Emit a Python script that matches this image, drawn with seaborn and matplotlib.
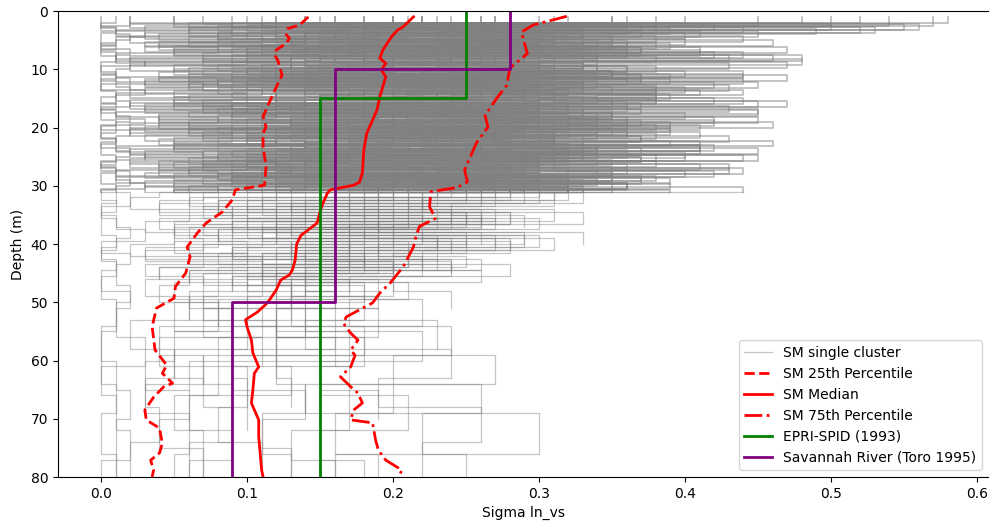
import numpy as np
import pandas as pd
import matplotlib
matplotlib.use("Agg")
import matplotlib.pyplot as plt
from matplotlib.lines import Line2D
import seaborn as sns

# layer boundaries (m) of the single-cluster profiles, one grid per group
top_a = [1, 2, 3, 4, 5, 6, 7, 8, 9, 10, 11, 12, 13, 14, 15, 16, 17, 18, 19, 20,
         21, 22, 23, 24, 25, 26, 27, 28, 29, 30, 31]
top_b = [1, 2.25, 3.25, 4.25, 5.25, 6.25, 7.25, 8.25, 9.25, 10.25, 11.25, 12.25, 13.25,
         14.25, 15.25, 16.25, 17.25, 18.25, 19.25, 20.25, 21.25, 22.25, 23.25, 24.25,
         25.25, 26.25, 27.25, 28.25, 29.25, 30.25, 31]
top_c = [1, 2.5, 3.5, 4.5, 5.5, 6.5, 7.5, 8.5, 9.5, 10.5, 11.5, 12.5, 13.5, 14.5, 15.5,
         16.5, 17.5, 18.5, 19.5, 20.5, 21.5, 22.5, 23.5, 24.5, 25.5, 26.5, 27.5, 28.5,
         29.5, 30.5, 31]
top_d = [1, 2.75, 3.75, 4.75, 5.75, 6.75, 7.75, 8.75, 9.75, 10.75, 11.75, 12.75, 13.75,
         14.75, 15.75, 16.75, 17.75, 18.75, 19.75, 20.75, 21.75, 22.75, 23.75, 24.75,
         25.75, 26.75, 27.75, 28.75, 29.75, 30.75, 31]
deep_a = [31, 33, 35, 37, 39, 41, 43, 45, 47, 50, 55, 60, 65, 70, 75, 80]
deep_b = [31, 32, 34, 36, 38, 40, 42, 44, 46, 49, 53, 58, 63, 68, 74, 80]
deep_c = [31, 33.5, 35.5, 37.5, 39.5, 41.5, 43.5, 45.5, 48, 51, 56, 61, 66, 72, 77, 80]
deep_d = [31, 32.5, 34.5, 36.5, 38.5, 40.5, 42.5, 44.5, 46.5, 49.5, 54, 59, 64, 69, 76, 80]

# sigma ln_vs x100 per layer: upper 30 m, then deeper layers
sm_a_top = [
    "1 0 1 2 1 0 1 1 2 1 0 1 2 1 1 0 1 2 1 1 0 1 1 2 1 0 1 1 2 1",
    "15 2 12 4 14 3 16 2 13 5 15 3 10 2 14 3 12 4 13 2 11 4 15 3 12 2 14 5 11 3",
    "22 6 19 8 21 5 17 10 20 7 22 6 16 9 21 5 19 8 20 6 18 10 21 7 17 5 22 8 19 6",
    "28 9 25 11 27 8 22 13 26 10 24 8 28 12 21 9 27 11 25 8 23 12 26 9 22 10 27 8 24 11",
    "32 11 28 14 31 10 26 15 30 12 29 10 25 16 31 11 27 13 30 10 28 15 26 12 31 10 29 14 27 12",
    "26 13 24 15 25 12 22 16 26 14 23 12 25 17 21 13 26 15 24 12 22 16 25 13 23 14 26 12 21 15",
    "35 15 31 17 34 14 29 18 33 16 30 14 35 19 28 15 33 17 31 14 29 18 34 16 30 15 32 14 28 17",
    "30 17 27 19 29 16 25 20 28 18 26 16 30 21 24 17 29 19 27 16 25 20 28 17 26 18 29 16 24 19",
    "40 19 33 21 29 18 36 22 27 20 34 18 30 23 38 19 28 21 35 18 31 22 26 19 37 20 29 18 33 21",
    "48 21 36 23 31 20 42 24 29 22 37 20 33 25 44 21 30 23 39 20 28 24 41 21 32 22 36 20 30 23",
    "52 24 39 25 46 22 33 26 43 24 31 22 40 27 35 23 45 25 32 22 38 26 42 23 30 24 44 22 34 25",
    "58 27 49 28 36 25 44 29 33 27 47 25 38 30 42 26 35 28 46 25 34 29 41 26 37 27 43 25 32 28",
]
sm_a_deep = [
    "1 0 1 2 1 0 1 1 2 1 0 1 2 1 1",
    "8 4 10 5 7 3 9 6 4 8 5 3 6 4 7",
    "14 8 12 6 15 9 11 7 13 5 9 6",
    "18 11 20 9 16 13 19 10 15 12 17 9 14 11 13",
    "22 14 19 12 24 16 18 11",
    "19 12 22 10 17 14 20 9 16",
    "25 16 21 13 23 17 20 12 18 14 22 15 19",
    "21 13 18 11 23 15 17 12",
    "30 20 26 18 28 22",
    "26 17 22 15 27 19 24",
    "33 24 29",
    "29 21 25 18 31 23",
]
sm_b_top = [
    "2 9 1 11 3 8 1 10 2 12 1 7 3 10 2 11 1 8 2 9 3 12 1 7 2 10 1 11 3 8",
    "5 17 6 14 4 18 7 13 5 16 4 17 8 12 5 18 6 15 4 16 7 14 5 17 6 13 4 18 5 15",
    "7 23 9 20 6 24 10 18 8 22 6 23 11 17 7 24 9 21 6 22 10 19 8 23 7 18 6 24 9 20",
    "10 29 12 26 9 30 13 24 11 28 9 29 14 23 10 30 12 27 9 28 13 25 11 29 10 24 9 30 12 26",
    "12 33 14 29 11 32 15 27 13 31 11 33 16 26 12 32 14 30 11 31 15 28 13 33 12 27 11 32 14 29",
    "14 28 16 25 13 27 17 24 15 28 13 26 18 23 14 28 16 25 13 27 17 24 15 28 14 23 13 27 16 25",
    "16 37 18 32 15 36 19 30 17 35 15 34 20 29 16 36 18 33 15 35 19 31 17 36 16 30 15 35 18 32",
    "18 32 20 29 17 31 21 27 19 32 17 30 22 26 18 31 20 29 17 30 21 27 19 32 18 26 17 31 20 28",
    "20 42 22 31 19 37 23 29 21 35 19 28 24 38 20 30 22 34 19 27 23 39 21 31 20 36 19 29 22 33",
    "22 50 24 35 21 41 25 30 23 44 21 33 26 38 22 29 24 42 21 34 25 31 23 40 22 28 21 37 24 32",
    "24 55 26 38 23 47 27 34 25 40 23 45 28 32 24 43 26 36 23 39 27 46 25 33 24 41 23 35 26 44",
    "27 56 29 44 26 37 30 48 28 35 26 42 31 39 27 33 29 45 26 36 30 41 28 34 27 43 26 38 29 32",
]
sm_b_deep = [
    "4 2 6 3 5 2 7 4 3 6 2 5 3 4 2",
    "10 6 12 5 9 7 11 4 8 6 10 5 7 9 6",
    "13 7 15 9 12 6 14 8 11 7 12 9 10 8 11",
    "17 10 19 12 15 9 18 11 14 10 16 12 13",
    "20 13 23 11 18 15 21 12 17",
    "16 22 14 19 12 17 15 20 13 18 14 24 19 26 22",
    "23 15 20 12 25 17 21 14 19 13",
    "24 17 27 15 22 19 25 14 20 16 23",
    "27 18 24 16 29 20 22",
    "28 21 31 19 26",
    "30 22 26 19 33",
    "18 11 15 9 20 13 17 10 14",
]
sm_c_top = [
    "2 0 3 1 0 2 1 3 0 1 2 0 3 1 2 0 1 3 0 2 1 0 2 3 1 0 2 1 3 0",
    "12 3 9 2 11 5 13 3 12 4 8 2 11 6 9 3 12 4 10 2 9 5 11 3 12 4 8 2 10 5",
    "20 8 17 6 19 11 15 7 20 9 16 6 18 12 14 7 19 10 17 6 15 11 20 8 16 7 18 9 14 10",
    "27 10 21 12 25 9 24 14 20 11 26 9 22 15 25 10 19 13 26 9 23 14 21 10 25 12 20 9 24 13",
    "31 13 27 15 29 12 26 18 30 14 25 12 29 19 27 13 30 16 24 12 28 17 26 13 30 15 25 12 27 16",
    "36 15 30 17 33 14 31 20 34 16 28 14 32 21 30 15 34 18 29 14 31 19 33 15 30 17 28 14 32 18",
    "22 11 19 13 21 10 20 14 18 12 22 10 19 15 21 11 18 13 22 10 20 14 19 11 21 12 18 10 20 13",
    "38 18 33 20 36 17 34 23 31 19 37 17 32 24 35 18 30 21 36 17 33 22 34 18 31 20 35 17 30 21",
    "45 21 33 23 38 20 29 26 36 22 31 20 41 27 30 21 35 24 28 20 37 25 32 21 29 23 34 20 39 24",
    "50 23 37 25 30 22 43 28 34 24 39 22 31 29 45 23 33 26 38 22 30 27 41 23 35 25 29 22 36 26",
    "54 26 41 27 35 24 46 30 38 26 33 24 44 31 36 25 40 28 34 24 43 29 37 25 32 27 42 24 35 28",
    "57 30 45 31 39 28 48 33 36 30 44 28 38 34 47 29 35 32 41 28 37 33 45 29 34 31 40 28 36 32",
]
sm_c_deep = [
    "2 0 1 3 0 2 1 0 2 1 3 0 1 2 0",
    "6 9 4 8 5 10 3 7 6 9 4 8 5 7 6",
    "11 7 13 8 10 6 12 9 7 11 8 10 6 9 7",
    "15 9 17 11 13 8 16 10 12 14 9 13 10",
    "19 12 21 14 17 11 20 13 16 12 18 15 17 13 16",
    "20 13 24 15 18 11 22 14 19 12 16",
    "12 17 10 15 13 18 11 16 14 19 12 17 21 15 18",
    "23 15 26 17 21 14",
    "26 18 23 15 28 20 24 17",
    "27 19 30 22 25 18 28 20 24",
    "31 21 27 19 24",
    "17 10 14 8 19 12 15 9 13 7 11",
]
sm_d_top = [
    "0 1 0 0 1 0 1 0 0 1 0 0 1 0 1 0 0 1 0 0 1 0 0 1 0 1 0 0 1 0",
    "5 19 3 14 4 18 2 13 6 16 3 17 5 12 2 18 4 15 3 16 5 14 2 17 4 13 3 18 5 15",
    "9 22 8 19 11 23 7 17 10 21 8 22 12 16 7 23 9 20 11 21 8 18 10 22 7 17 9 23 8 19",
    "11 29 10 25 13 28 9 22 12 27 10 29 14 21 9 28 11 26 13 27 10 23 12 29 9 22 11 28 10 25",
    "14 31 12 27 15 30 12 25 13 29 12 31 16 24 12 30 14 28 15 29 12 26 13 31 12 25 14 30 12 27",
    "16 27 14 24 17 26 14 23 15 27 14 25 18 22 14 27 16 24 17 26 14 23 15 27 14 22 16 26 14 24",
    "18 38 16 33 19 37 16 31 17 36 16 38 20 30 16 37 18 34 19 36 16 32 17 38 16 30 18 37 16 33",
    "20 33 18 30 21 32 18 28 19 33 18 31 22 27 18 32 20 30 21 32 18 28 19 33 18 27 20 32 18 29",
    "21 44 19 31 22 36 19 28 20 39 19 30 23 34 19 27 21 37 22 29 19 33 20 40 19 28 21 32 19 35",
    "23 52 21 35 24 41 21 30 22 44 21 33 25 38 21 29 23 42 24 31 21 36 22 45 21 30 23 34 21 39",
    "26 53 24 40 27 34 24 47 25 37 24 43 28 33 24 45 26 36 27 41 24 32 25 44 24 35 26 39 24 30",
    "35 6 40 8 30 5 38 9 33 6 36 7 29 5 37 8 32 6 39 7 31 5 34 8 38 6 30 7 36 5",
]
sm_d_deep = [
    "0 1 0 0 1 0 1 0 0 1 0 0 1 0 1",
    "7 4 9 5 8 3 10 6 5 8 4 7 3 6 5",
    "12 8 14 7 11 9 13 6 10 8 12 7 9",
    "16 10 18 12 14 9 17 11 13 10 15 12 14 11 13",
    "19 13 22 15 17 12 20 14 16 13 18 15 20 16 19",
    "21 15 24 17 19 14 22",
    "22 14 26 16 20 13 24 15 18",
    "25 18 28 16 23 19 26 15 21 17 24 20 26 22 25",
    "28 19 25 17 30 21 23",
    "31 22 33 20 27",
    "32 22 28 20 25 18",
    "20 8 25 13 29 10 18 26 12 22 9 27 14 30 16",
]

# percentile curves of the cluster
p25_depth = [1.0, 2.4, 3.0, 4.1, 4.7, 5.5, 6.7, 7.6, 8.4, 11.0, 13.6, 16.4, 18.1, 19.9, 21.0,
             23.3, 26.7, 29.9, 30.7, 32.4, 34.5, 36.4, 38.1, 40.5, 42.2, 45.0, 47.3, 49.3,
             51.0, 54.2, 58.2, 60.8, 62.2, 63.9, 64.5, 66.3, 68.5, 70.2, 71.6, 74.2, 75.9,
             77.1, 78.8, 80.0]
p25_sigma = [0.142, 0.136, 0.128, 0.127, 0.129, 0.127, 0.120, 0.119, 0.121, 0.124, 0.119,
             0.114, 0.111, 0.113, 0.111, 0.111, 0.113, 0.112, 0.092, 0.090, 0.083, 0.072,
             0.066, 0.059, 0.061, 0.058, 0.051, 0.050, 0.038, 0.035, 0.037, 0.045, 0.042,
             0.049, 0.043, 0.036, 0.030, 0.031, 0.040, 0.042, 0.040, 0.034, 0.036, 0.035]
med_depth = [1.0, 2.7, 3.3, 4.4, 6.7, 8.1, 9.0, 10.1, 11.3, 13.0, 14.7, 17.0, 19.3, 21.0,
             23.9, 27.8, 29.4, 29.9, 30.7, 31.3, 33.0, 34.5, 36.4, 38.5, 40.0, 42.7, 44.5,
             45.3, 46.2, 47.9, 50.1, 51.7, 53.0, 54.2, 56.5, 58.7, 61.1, 62.2, 65.1, 67.3,
             70.2, 73.1, 75.9, 78.8, 80.0]
med_sigma = [0.214, 0.207, 0.203, 0.199, 0.193, 0.191, 0.195, 0.192, 0.195, 0.193, 0.191,
             0.189, 0.185, 0.182, 0.180, 0.179, 0.177, 0.173, 0.157, 0.155, 0.152, 0.150,
             0.148, 0.137, 0.134, 0.133, 0.131, 0.129, 0.123, 0.120, 0.114, 0.107, 0.099,
             0.100, 0.103, 0.104, 0.108, 0.105, 0.104, 0.103, 0.108, 0.108, 0.109, 0.110,
             0.111]
p75_depth = [0.9, 1.5, 2.4, 3.6, 5.5, 7.3, 9.8, 12.7, 15.0, 17.9, 19.9, 22.7, 25.0, 27.3,
             29.3, 30.3, 31.0, 33.6, 35.6, 37.0, 39.3, 40.5, 43.9, 46.7, 48.4, 50.1, 52.5,
             53.6, 55.3, 56.5, 58.2, 59.1, 61.1, 62.8, 64.5, 65.6, 67.3, 68.5, 70.2, 70.7,
             73.6, 75.4, 77.1, 78.8, 80.0]
p75_sigma = [0.319, 0.310, 0.296, 0.288, 0.290, 0.292, 0.280, 0.278, 0.271, 0.263, 0.265,
             0.257, 0.253, 0.249, 0.251, 0.244, 0.226, 0.225, 0.229, 0.218, 0.215, 0.214,
             0.207, 0.198, 0.191, 0.186, 0.168, 0.166, 0.171, 0.176, 0.171, 0.174, 0.171,
             0.164, 0.171, 0.176, 0.179, 0.173, 0.171, 0.186, 0.188, 0.190, 0.195, 0.206,
             0.204]

# generic models: layer boundaries and sigma per layer
epri_bounds = [0, 15, 80]
epri_sigma = [0.25, 0.15]
toro_bounds = [0, 10, 50, 80]
toro_sigma = [0.28, 0.16, 0.09]


def steps(bounds, values):
    d = np.repeat(bounds, 2)[1:-1]
    s = np.repeat(values, 2)
    return s, d


upper, lower = [], []
pid = 0
groups = [(top_a, deep_a, sm_a_top, sm_a_deep), (top_b, deep_b, sm_b_top, sm_b_deep),
          (top_c, deep_c, sm_c_top, sm_c_deep), (top_d, deep_d, sm_d_top, sm_d_deep)]
for tb, db, tops, deeps in groups:
    for t, dp in zip(tops, deeps):
        tv = [float(v) / 100 for v in t.split()][:len(tb) - 1]
        dv = [float(v) / 100 for v in dp.split()][:len(db) - 1]
        s, d = steps(list(tb[:len(tv)]) + [31], tv)
        upper.append(pd.DataFrame({"profile": pid, "sigma": s, "depth": d}))
        if dv:
            s, d = steps(list(db[:len(dv) + 1]), dv)
            s = np.concatenate([[tv[-1]], s])
            d = np.concatenate([[31], d])
            lower.append(pd.DataFrame({"profile": pid, "sigma": s, "depth": d}))
        pid += 1
df_upper = pd.concat(upper, ignore_index=True)
df_lower = pd.concat(lower, ignore_index=True)

fig = plt.figure(figsize=(9.89, 5.25), dpi=100)
ax = fig.add_axes([0.0586, 0.0914, 0.9414, 0.8876])

sns.lineplot(data=df_upper, x="sigma", y="depth", units="profile", estimator=None,
             sort=False, color="gray", alpha=0.5, lw=1.3, legend=False, ax=ax)
sns.lineplot(data=df_lower, x="sigma", y="depth", units="profile", estimator=None,
             sort=False, color="gray", alpha=0.45, lw=0.9, legend=False, ax=ax)
sns.lineplot(x=p25_sigma, y=p25_depth, estimator=None, sort=False, color="red", lw=2,
             linestyle="--", ax=ax)
sns.lineplot(x=med_sigma, y=med_depth, estimator=None, sort=False, color="red", lw=2, ax=ax)
sns.lineplot(x=p75_sigma, y=p75_depth, estimator=None, sort=False, color="red", lw=2,
             linestyle="-.", ax=ax)
es, ed = steps(epri_bounds, epri_sigma)
sns.lineplot(x=es, y=ed, estimator=None, sort=False, color="green", lw=2, ax=ax)
ts, td = steps(toro_bounds, toro_sigma)
sns.lineplot(x=ts, y=td, estimator=None, sort=False, color="purple", lw=2, ax=ax)

ax.set_xlim(-0.0295, 0.6082)
ax.set_ylim(80, 0)
ax.set_xticks([0.0, 0.1, 0.2, 0.3, 0.4, 0.5, 0.6])
ax.set_yticks([0, 10, 20, 30, 40, 50, 60, 70, 80])
ax.spines["right"].set_visible(False)
ax.set_xlabel("Sigma ln_vs")
ax.set_ylabel("Depth (m)")

handles = [
    Line2D([], [], color="gray", alpha=0.45, lw=0.9),
    Line2D([], [], color="red", lw=2, ls="--"),
    Line2D([], [], color="red", lw=2),
    Line2D([], [], color="red", lw=2, ls="-."),
    Line2D([], [], color="green", lw=2),
    Line2D([], [], color="purple", lw=2),
]
labels = ["SM single cluster", "SM 25th Percentile", "SM Median", "SM 75th Percentile",
          "EPRI-SPID (1993)", "Savannah River (Toro 1995)"]
ax.legend(handles, labels, loc="lower right", fontsize=10)

fig.savefig("out.png", dpi=100)
